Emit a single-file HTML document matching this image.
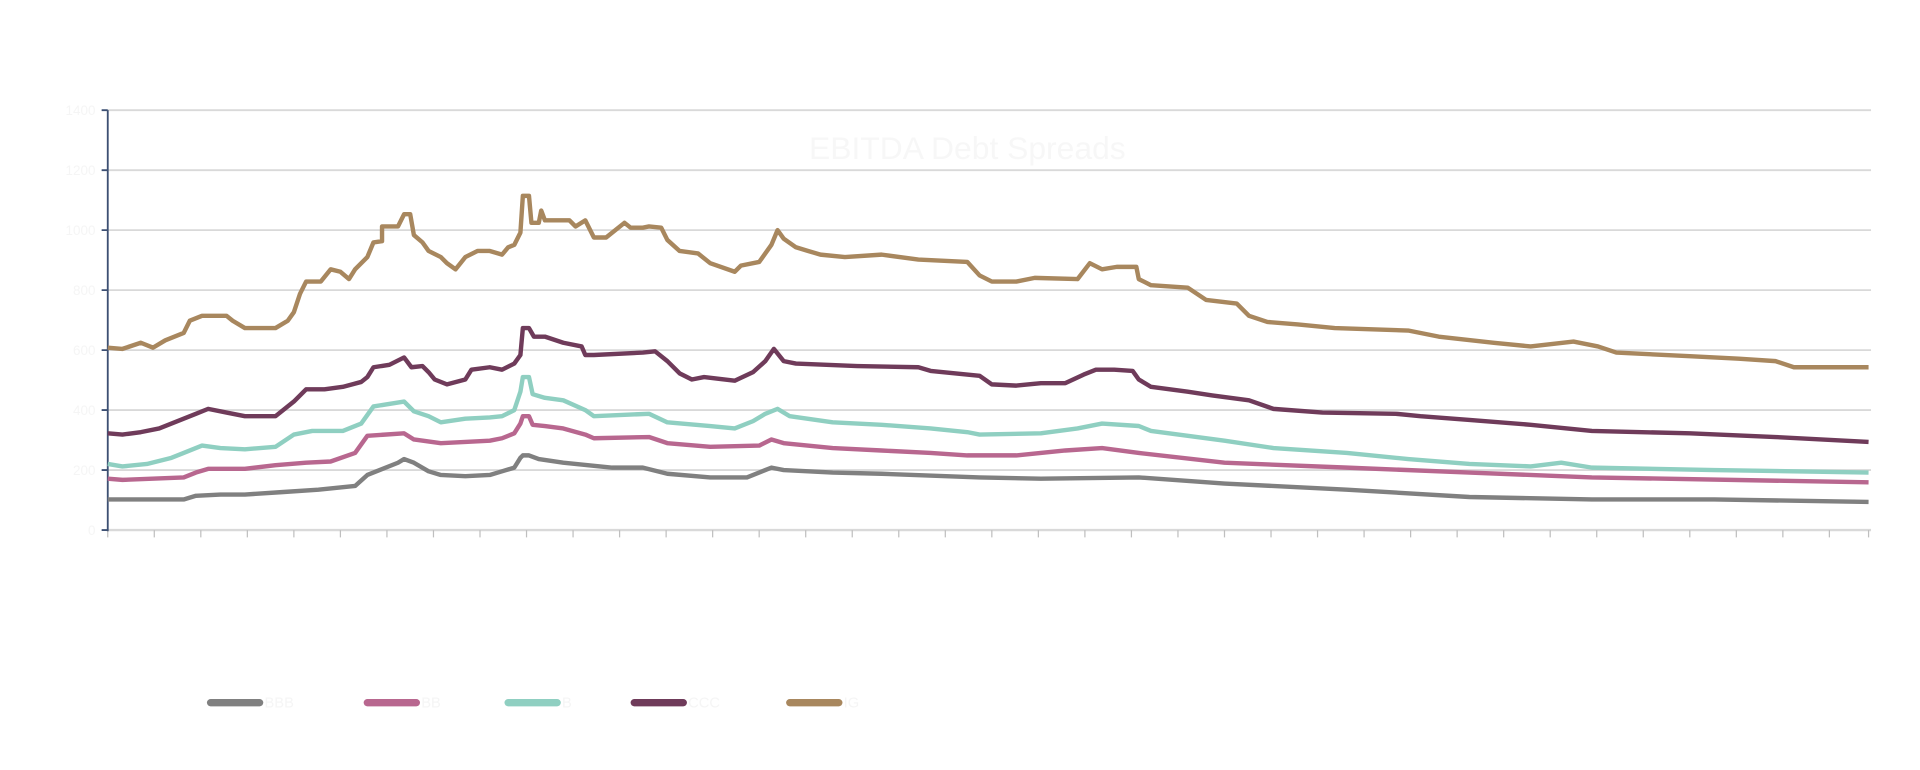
<!DOCTYPE html>
<html><head><meta charset="utf-8"><style>
html,body{margin:0;padding:0;background:#fff;width:1920px;height:770px;overflow:hidden}
svg{display:block}
</style></head><body>
<svg width="1920" height="770" viewBox="0 0 1568 629" preserveAspectRatio="none" xmlns="http://www.w3.org/2000/svg" font-family="Liberation Sans, sans-serif">
<text x="790" y="130" text-anchor="middle" font-size="26" fill="#f7f7f7">EBITDA Debt Spreads</text>
<g stroke="#d9d9d9" stroke-width="1.5">
<line x1="88" y1="90" x2="1528" y2="90"/><line x1="88" y1="139" x2="1528" y2="139"/><line x1="88" y1="188" x2="1528" y2="188"/><line x1="88" y1="237" x2="1528" y2="237"/><line x1="88" y1="286" x2="1528" y2="286"/><line x1="88" y1="335" x2="1528" y2="335"/><line x1="88" y1="384" x2="1528" y2="384"/><line x1="88" y1="433" x2="1528" y2="433" stroke-width="2"/>
</g>
<g stroke="#bfbfbf" stroke-width="1">
<path d="M88 433v6M126 433v6M164 433v6M202 433v6M240 433v6M278 433v6M316 433v6M354 433v6M392 433v6M430 433v6M468 433v6M506 433v6M544 433v6M582 433v6M620 433v6M658 433v6M696 433v6M734 433v6M772 433v6M810 433v6M848 433v6M886 433v6M924 433v6M962 433v6M1000 433v6M1038 433v6M1076 433v6M1114 433v6M1152 433v6M1190 433v6M1228 433v6M1266 433v6M1304 433v6M1342 433v6M1380 433v6M1418 433v6M1456 433v6M1494 433v6M1526 433v6"/>
</g>
<g stroke="#3d5073" stroke-width="1.5">
<line x1="88" y1="90" x2="88" y2="434"/>
<path d="M83 90h5M83 139h5M83 188h5M83 237h5M83 286h5M83 335h5M83 384h5M83 433h5"/>
</g>
<g fill="#f5f5f5" font-size="11" text-anchor="end">
<text x="78" y="94">1400</text><text x="78" y="143">1200</text><text x="78" y="192">1000</text><text x="78" y="241">800</text><text x="78" y="290">600</text><text x="78" y="339">400</text><text x="78" y="388">200</text><text x="78" y="437">0</text>
</g>
<g fill="none" stroke-width="3.6" stroke-linejoin="round">
<polyline stroke="#a8875e" points="88,284 100,285 115,280 125,284 135,278 150,272 155,262 165,258 185,258 190,262 200,268 225,268 235,262 240,255 245,240 250,230 262,230 270,220 278,222 285,228 290,220 300,210 305,198 312,197 312,185 325,185 330,175 335,175 338,192 345,198 350,205 360,210 365,215 372,220 380,210 390,205 400,205 410,208 415,202 420,200 425,190 427,160 432,160 434,182 440,182 442,172 445,180 465,180 470,185 478,180 485,194 495,194 510,182 515,186 525,186 530,185 540,186 545,196 555,205 570,207 580,215 600,222 605,217 620,214 630,200 635,188 640,195 650,202 660,205 670,208 690,210 720,208 750,212 790,214 800,225 810,230 830,230 845,227 880,228 890,215 900,220 912,218 928,218 930,228 940,233 970,235 985,245 1010,248 1020,258 1035,263 1060,265 1090,268 1150,270 1175,275 1220,280 1250,283 1285,279 1305,283 1320,288 1380,291 1420,293 1450,295 1465,300 1526,300"/>
<polyline stroke="#6f3b5a" points="88,354 100,355 115,353 130,350 150,342 160,338 170,334 185,337 200,340 225,340 240,328 250,318 265,318 280,316 295,312 300,308 305,300 318,298 330,292 336,300 345,299 350,304 355,310 365,314 380,310 385,302 400,300 410,302 420,297 425,290 427,268 432,268 436,275 445,275 460,280 475,283 478,290 485,290 525,288 535,287 545,295 555,305 565,310 575,308 600,311 615,304 625,295 632,285 640,295 650,297 700,299 750,300 760,303 800,307 810,314 830,315 850,313 870,313 885,306 895,302 910,302 925,303 930,310 940,316 970,320 990,323 1020,327 1040,334 1080,337 1140,338 1160,340 1200,343 1250,347 1300,352 1380,354 1450,357 1526,361"/>
<polyline stroke="#8fcfc1" points="88,379 100,381 120,379 140,374 150,370 165,364 180,366 200,367 225,365 240,355 255,352 280,352 295,346 305,332 330,328 338,336 350,340 360,345 380,342 400,341 410,340 420,335 425,320 427,308 432,308 435,322 445,325 460,327 478,335 485,340 530,338 545,345 580,348 600,350 615,344 625,338 635,334 645,340 680,345 720,347 760,350 790,353 800,355 850,354 880,350 900,346 930,348 940,352 970,356 1000,360 1040,366 1100,370 1150,375 1200,379 1250,381 1275,378 1300,382 1400,384 1526,386"/>
<polyline stroke="#b8678f" points="88,391 100,392 150,390 160,386 170,383 200,383 225,380 250,378 270,377 290,370 300,356 330,354 338,359 360,362 400,360 410,358 420,354 425,346 427,340 432,340 435,347 445,348 460,350 478,355 485,358 530,357 545,362 580,365 620,364 630,359 640,362 680,366 720,368 760,370 790,372 830,372 870,368 900,366 930,370 1000,378 1100,382 1200,386 1300,390 1526,394"/>
<polyline stroke="#808080" points="88,408 150,408 160,405 180,404 200,404 230,402 260,400 290,397 300,388 310,384 325,378 330,375 338,378 350,385 360,388 380,389 400,388 410,385 420,382 425,374 427,372 432,372 440,375 460,378 500,382 525,382 545,387 580,390 610,390 625,384 630,382 640,384 680,386 720,387 800,390 850,391 930,390 1000,395 1100,400 1200,406 1300,408 1400,408 1526,410"/>
</g>
<g stroke-width="6" stroke-linecap="round">
<line x1="172" y1="574" x2="212" y2="574" stroke="#808080"/>
<line x1="300" y1="574" x2="340" y2="574" stroke="#b8678f"/>
<line x1="415" y1="574" x2="455" y2="574" stroke="#8fcfc1"/>
<line x1="518" y1="574" x2="558" y2="574" stroke="#6f3b5a"/>
<line x1="645" y1="574" x2="685" y2="574" stroke="#a8875e"/>
</g>
<g fill="#f5f5f5" font-size="12">
<text x="216" y="578">BBB</text><text x="344" y="578">BB</text><text x="459" y="578">B</text><text x="562" y="578">CCC</text><text x="689" y="578">IG</text>
</g>
</svg>
</body></html>
